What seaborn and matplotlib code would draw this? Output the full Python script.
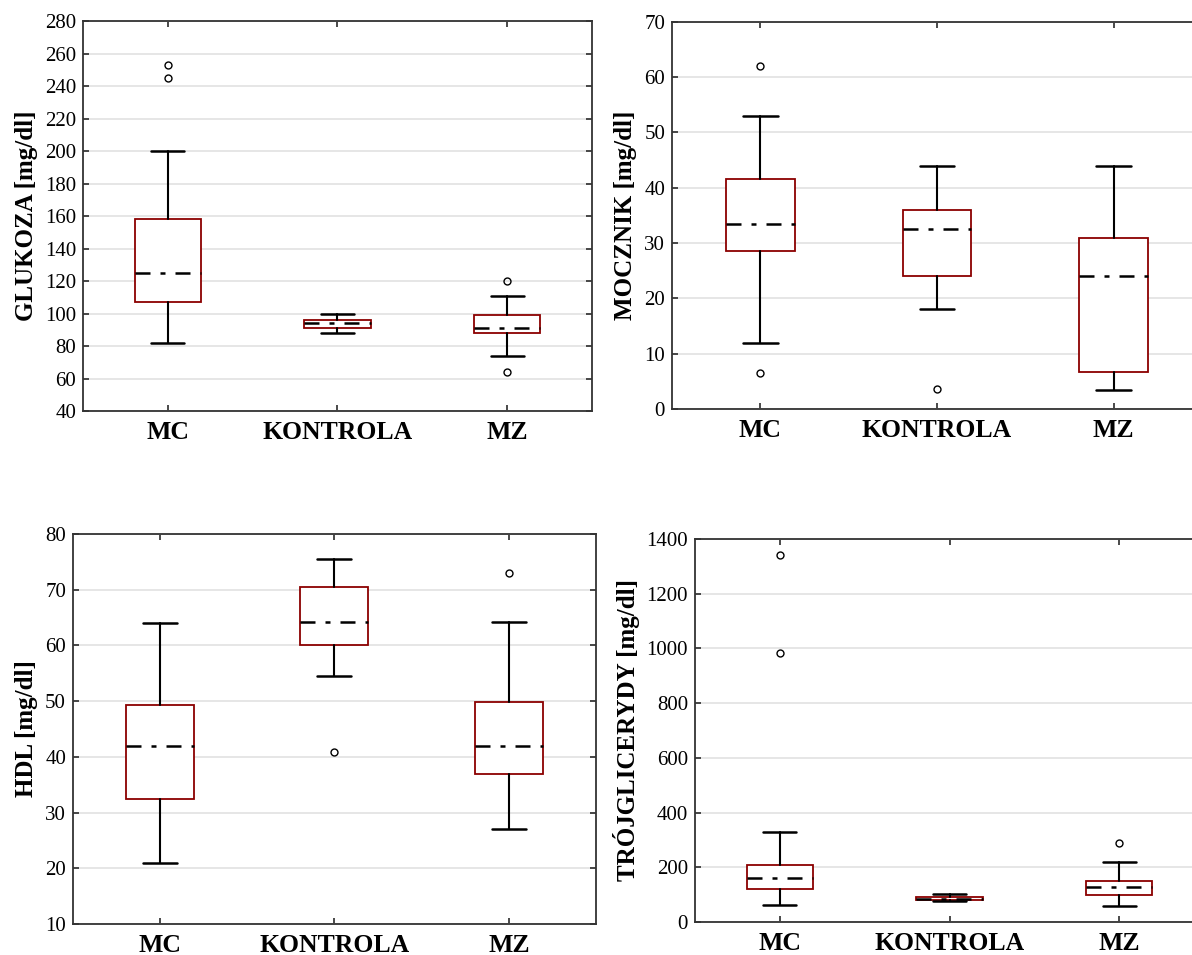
import matplotlib
matplotlib.use("Agg")
import matplotlib.pyplot as plt
import seaborn as sns

# Groups
categories = ["MC", "KONTROLA", "MZ"]

# Glukoza [mg/dl]: whisker low, Q1, median, Q3, whisker high, outliers per group
glukoza_lo = [82, 88, 74]
glukoza_q1 = [107, 91, 88]
glukoza_med = [125, 94, 91]
glukoza_q3 = [158, 96, 99]
glukoza_hi = [200, 100, 111]
glukoza_out = [[253, 245], [], [120, 64]]

# Mocznik [mg/dl]
mocznik_lo = [12, 18, 3.5]
mocznik_q1 = [28.5, 24, 6.7]
mocznik_med = [33.5, 32.5, 24]
mocznik_q3 = [41.5, 36, 31]
mocznik_hi = [53, 44, 44]
mocznik_out = [[62, 6.5], [3.6], []]

# HDL [mg/dl]
hdl_lo = [21, 54.5, 27]
hdl_q1 = [32.5, 60, 37]
hdl_med = [42, 64.2, 42]
hdl_q3 = [49.3, 70.5, 49.9]
hdl_hi = [64, 75.5, 64.2]
hdl_out = [[], [40.8], [73]]

# Trójglicerydy [mg/dl]
tg_lo = [62, 75, 58]
tg_q1 = [120, 80, 98]
tg_med = [160, 85, 128]
tg_q3 = [207, 90, 148]
tg_hi = [330, 102, 218]
tg_out = [[1340, 985], [], [290]]

sns.set_theme(style="white")
plt.rcParams["font.family"] = ["Liberation Serif", "DejaVu Serif"]
plt.rcParams["text.color"] = "black"
plt.rcParams["axes.labelcolor"] = "black"
plt.rcParams["xtick.color"] = "black"
plt.rcParams["ytick.color"] = "black"

BOX_RED = "#8b0000"
SPINE = "#333333"


def make_stats(lo, q1, med, q3, hi, out):
    stats = []
    for i, name in enumerate(categories):
        stats.append(dict(label=name, whislo=lo[i], q1=q1[i], med=med[i],
                          q3=q3[i], whishi=hi[i], fliers=out[i]))
    return stats


def draw_panel(ax, stats, ylabel, ylim, yticks):
    ax.yaxis.grid(True, color="#e2e2e2", linewidth=1.2, zorder=0)
    ax.set_axisbelow(True)
    ax.bxp(stats, positions=range(len(categories)), widths=0.39,
           showfliers=True, patch_artist=True,
           boxprops=dict(facecolor="white", edgecolor=BOX_RED, linewidth=1.3),
           medianprops=dict(color="black", linewidth=1.8,
                            linestyle=(0, (6, 4, 2, 4))),
           whiskerprops=dict(color="black", linewidth=1.5),
           capprops=dict(color="black", linewidth=1.8),
           flierprops=dict(marker="o", markersize=5, markerfacecolor="none",
                           markeredgecolor="black", markeredgewidth=1.0))
    ax.set_xlim(-0.5, len(categories) - 0.5)
    ax.set_ylim(*ylim)
    ax.set_yticks(yticks)
    ax.set_xticks(range(len(categories)))
    ax.set_xticklabels(categories, fontsize=18.5, fontweight="bold",
                       color="black")
    ax.tick_params(axis="y", labelsize=15, direction="in", length=4,
                   right=True, left=True, pad=5, color=SPINE,
                   labelcolor="black")
    ax.tick_params(axis="x", direction="in", length=4, top=True,
                   bottom=True, pad=7, color=SPINE)
    ax.set_ylabel(ylabel, fontsize=18, fontweight="bold", labelpad=5,
                  color="black")
    ax.set_xlabel("")
    for sp in ax.spines.values():
        sp.set_visible(True)
        sp.set_color(SPINE)
        sp.set_linewidth(1.3)


fig = plt.figure(figsize=(11.92, 9.55), dpi=100)
ax1 = fig.add_axes([0.0696, 0.5696, 0.4270, 0.4084])
ax2 = fig.add_axes([0.5638, 0.5717, 0.4446, 0.4055])
ax3 = fig.add_axes([0.0612, 0.0325, 0.4388, 0.4084])
ax4 = fig.add_axes([0.5831, 0.0346, 0.4270, 0.4010])

draw_panel(ax1, make_stats(glukoza_lo, glukoza_q1, glukoza_med, glukoza_q3,
                           glukoza_hi, glukoza_out),
           "GLUKOZA [mg/dl]", (40, 280), range(40, 281, 20))
draw_panel(ax2, make_stats(mocznik_lo, mocznik_q1, mocznik_med, mocznik_q3,
                           mocznik_hi, mocznik_out),
           "MOCZNIK [mg/dl]", (0, 70), range(0, 71, 10))
draw_panel(ax3, make_stats(hdl_lo, hdl_q1, hdl_med, hdl_q3, hdl_hi, hdl_out),
           "HDL [mg/dl]", (10, 80), range(10, 81, 10))
draw_panel(ax4, make_stats(tg_lo, tg_q1, tg_med, tg_q3, tg_hi, tg_out),
           "TRÓJGLICERYDY [mg/dl]", (0, 1400), range(0, 1401, 200))

fig.savefig("out.png", dpi=100, facecolor="white")
